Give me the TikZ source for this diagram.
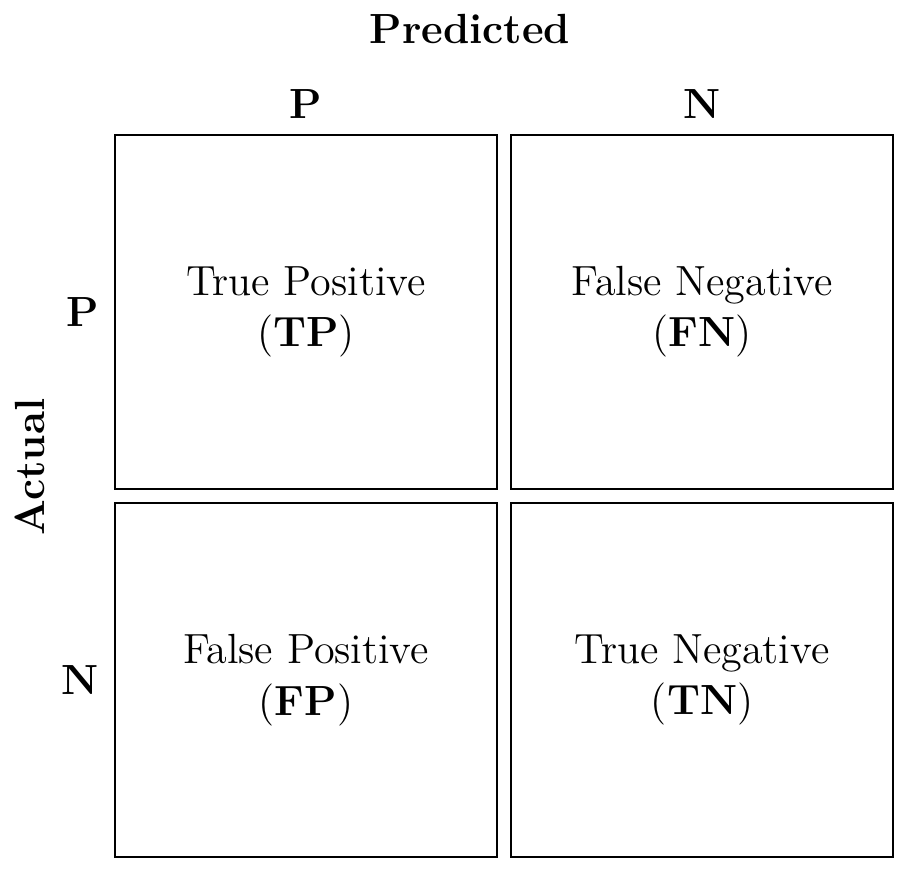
\documentclass[tikz,border=0pt]{standalone}
\usepackage{tikz}
\usetikzlibrary{positioning}

\begin{document}
\begin{tikzpicture}[node distance=0.125cm,
  cell/.style={draw, line width=0.45pt, minimum width=3.82cm, minimum height=3.54cm,
    align=center, inner sep=0pt, font=\fontsize{12}{14.6}\selectfont},
  head/.style={inner sep=0pt, font=\fontsize{12}{14.6}\selectfont\bfseries}]
\useasboundingbox (0,0) rectangle (9.07,8.72);

% define the cells of the matrix
  \node[cell]   (tp)   at (3.06,5.60)
{True Positive\\(\textbf{TP})};
  \node[cell]   (fn)   [right=of tp]
{False Negative\\(\textbf{FN})};
  \node[cell]   (fp)   [below=of tp]
{False Positive\\(\textbf{FP})};
  \node[cell]   (tn)   [below=of fn]
{True Negative\\(\textbf{TN})};

% define the headings
  \node[head]   (colp)   [above=0.15cm of tp]   {P};
  \node[head]   (coln)   [above=0.15cm of fn]   {N};
  \node[head]   (rowp)   [left=0.15cm of tp]    {P};
  \node[head]   (rown)   [left=0.15cm of fp]    {N};
  \node[head]   (pred)   at (4.70,8.43)         {Predicted};
  \node[head, rotate=90]   (act)   at (0.30,4.05)   {Actual};

\end{tikzpicture}
\end{document}
